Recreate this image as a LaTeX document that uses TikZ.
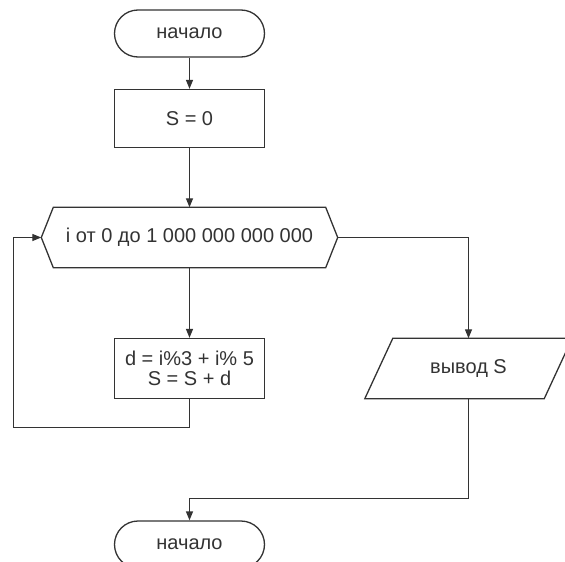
\documentclass[tikz,border=0pt]{standalone}
\usepackage{fontspec}
\setmainfont{Liberation Sans}
\usetikzlibrary{arrows.meta}
\definecolor{ink}{RGB}{51,51,51}
\begin{document}
\begin{tikzpicture}[x=1pt,y=-1pt,
  every node/.style={font=\fontsize{20}{20}\selectfont, text=ink, inner sep=0pt},
  line/.style={draw=ink, line width=1.3pt},
  flow/.style={line, -{Triangle[length=9pt,width=7pt]}},
  terminal/.style={line, rounded corners=23.5pt, minimum width=150pt, minimum height=47pt},
  proc/.style={line, minimum width=150pt, minimum height=58pt, align=center},
  hexlabel/.style={minimum width=296pt, minimum height=60pt},
  iolabel/.style={minimum width=179pt, minimum height=60pt}]

\path[use as bounding box, clip] (0,0) rectangle (565,562);

% blocks
\node[terminal] (start) at (189.5,33.5) {начало};
\node[proc] (init) at (189.5,118.5) {S = 0};
\node[hexlabel] (loop) at (189.5,237.5) {i от 0 до 1 000 000 000 000};
\draw[line] (loop.west) -- ([xshift=12pt]loop.north west) -- ([xshift=-12pt]loop.north east)
  -- (loop.east) -- ([xshift=-12pt]loop.south east) -- ([xshift=12pt]loop.south west) -- cycle;
\node[proc, minimum height=60pt] (body) at (189.5,368.5) {d = i\%3 + i\% 5\\S = S + d};
\node[iolabel] (out) at (468.5,368.5) {вывод S};
\draw[line] ([xshift=-14pt]out.south west) -- ([xshift=14pt]out.north west)
  -- ([xshift=14pt]out.north east) -- ([xshift=-14pt]out.south east) -- cycle;
\node[terminal] (end) at (189.5,544.5) {начало};

% connectors
\draw[flow] (start.south) -- (init.north);
\draw[flow] (init.south) -- (loop.north);
\draw[flow] (loop.south) -- (body.north);
\draw[flow] (body.south) -- ++(0,28) -| ([xshift=-28pt]loop.west) -- (loop.west);
\draw[flow] (loop.east) -| (out.north);
\draw[flow] (out.south) -- ++(0,100) -| (end.north);
\end{tikzpicture}
\end{document}
